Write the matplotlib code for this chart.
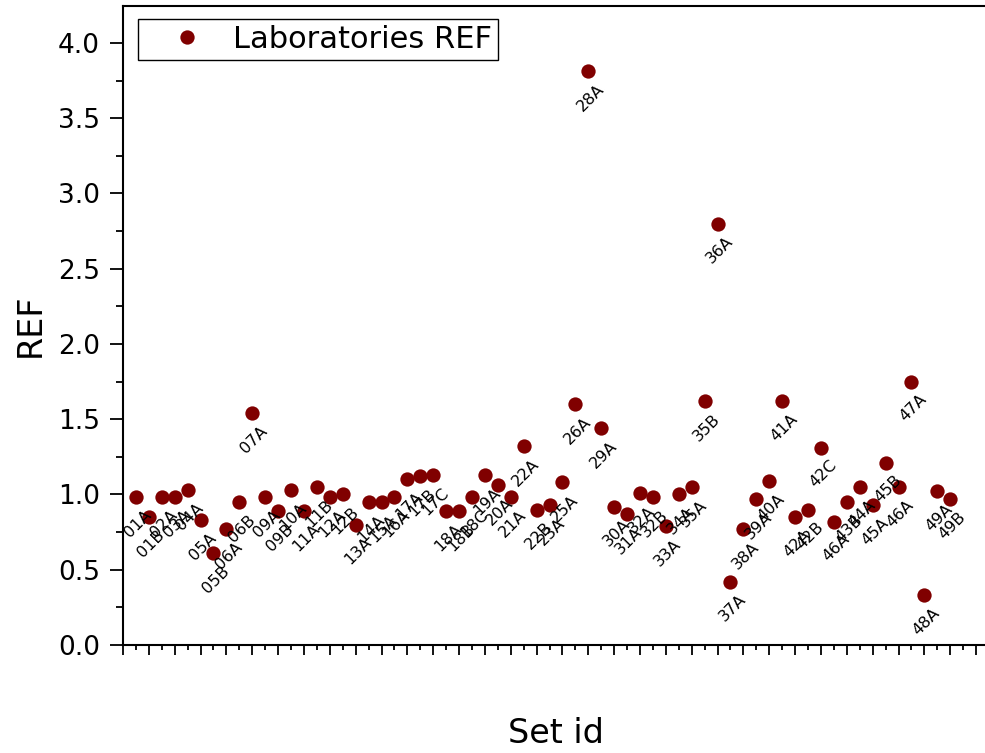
import numpy as np
import matplotlib
matplotlib.use("Agg")
from matplotlib import pyplot as plt
from matplotlib.ticker import MultipleLocator, NullFormatter

plt.rcParams['font.family'] = ['DejaVu Sans']

# set ids (as printed next to each point) and REF values
labels = ['01A', '01B', '02A', '03A', '04A', '05A', '05B', '06A', '06B', '07A',
          '09A', '09B', '10A', '11A', '11B', '12A', '12B', '13A', '14A', '15A',
          '16A', '17A', '17B', '17C', '18A', '18B', '18C', '19A', '20A', '21A',
          '22A', '22B', '23A', '25A', '26A', '28A', '29A', '30A', '31A', '32A',
          '32B', '33A', '34A', '35A', '35B', '36A', '37A', '38A', '39A', '40A',
          '41A', '42A', '42B', '42C', '46A', '43B', '44A', '45A', '45B', '46A',
          '47A', '48A', '49A', '49B']
ref = [0.98, 0.85, 0.98, 0.98, 1.03, 0.83, 0.61, 0.77, 0.95, 1.54,
       0.98, 0.89, 1.03, 0.89, 1.05, 0.98, 1.00, 0.80, 0.95, 0.95,
       0.98, 1.10, 1.12, 1.13, 0.89, 0.89, 0.98, 1.13, 1.06, 0.98,
       1.32, 0.90, 0.93, 1.08, 1.60, 3.81, 1.44, 0.92, 0.87, 1.01,
       0.98, 0.79, 1.00, 1.05, 1.62, 2.80, 0.42, 0.77, 0.97, 1.09,
       1.62, 0.85, 0.90, 1.31, 0.82, 0.95, 1.05, 0.93, 1.21, 1.05,
       1.75, 0.33, 1.02, 0.97]
x = np.arange(1, len(ref) + 1)

fig = plt.figure(figsize=(9.85, 7.53), dpi=100)
ax = fig.add_axes([123 / 985, 108 / 753, 866 / 985, 639 / 753])

ax.plot(x, ref, 'o', color='#800000', markersize=10.3, markeredgewidth=0,
        label='Laboratories REF')

for xi, yi, lab in zip(x, ref, labels):
    ax.annotate(lab, (xi, yi), xytext=(1.5, -19), textcoords='offset points',
                rotation=45, ha='center', va='center', fontsize=11.5)

ax.set_xlim(0, 67.0)
ax.set_ylim(0, 4.245)
ax.xaxis.set_major_locator(MultipleLocator(2))
ax.xaxis.set_minor_locator(MultipleLocator(1))
ax.xaxis.set_major_formatter(NullFormatter())
ax.yaxis.set_major_locator(MultipleLocator(0.5))
ax.yaxis.set_minor_locator(MultipleLocator(0.25))
ax.yaxis.set_major_formatter(plt.FuncFormatter(lambda v, p: '%.1f' % v))

for s in ax.spines.values():
    s.set_linewidth(1.5)
ax.tick_params(axis='y', which='major', length=9.5, width=1.3, labelsize=19, pad=7)
ax.tick_params(axis='y', which='minor', length=5, width=1.3)
ax.tick_params(axis='x', which='major', length=7.5, width=1.3)
ax.tick_params(axis='x', which='minor', length=3.5, width=1.3)

ax.set_ylabel('REF', fontsize=24, labelpad=8)
ax.set_xlabel('Set id', fontsize=24, labelpad=41)

leg = ax.legend(loc='upper left', bbox_to_anchor=(138 / 985, 1 - 19 / 753),
                bbox_transform=fig.transFigure, fontsize=22, fancybox=False,
                edgecolor='black', framealpha=1, borderpad=0.2,
                handlelength=2.8, handletextpad=0.1, borderaxespad=0,
                markerscale=1.0)
leg.get_frame().set_linewidth(1.0)

fig.savefig('out.png', dpi=100)
